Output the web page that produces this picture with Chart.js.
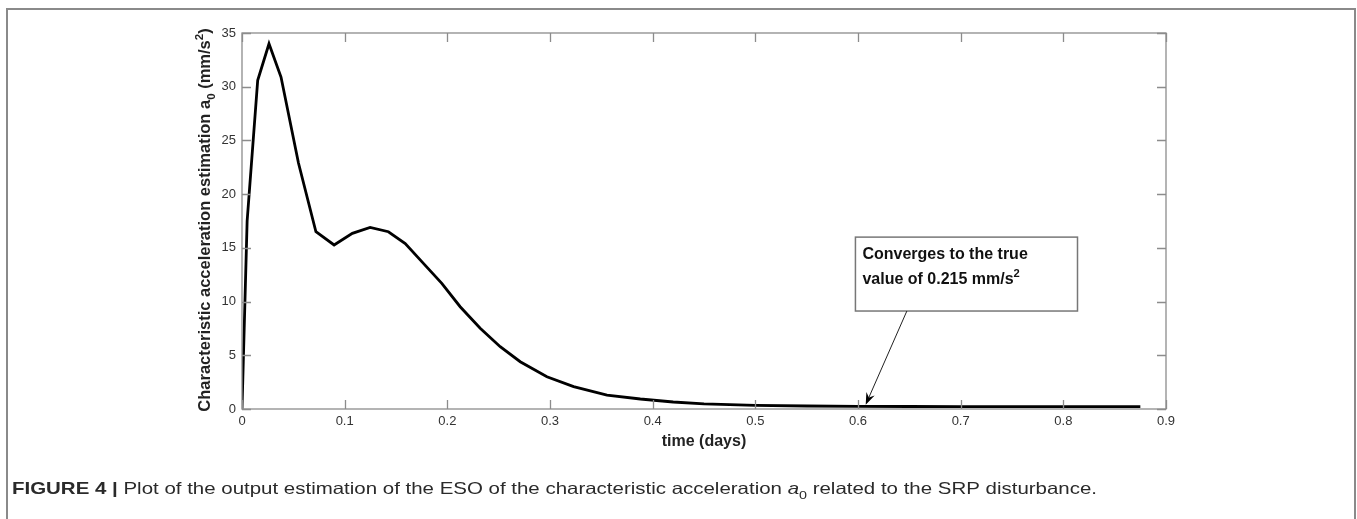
<!DOCTYPE html>
<html>
<head>
<meta charset="utf-8">
<script src="https://cdn.jsdelivr.net/npm/chart.js@4"></script>
<style>
  body { margin: 0; background: #fff; }
  canvas { display: block; }
</style>
</head>
<body>
<canvas id="myChart" width="1357" height="519"></canvas>
<script>
// data
const times = [0, 0.005, 0.0153, 0.0263, 0.038, 0.055, 0.072, 0.0897, 0.1075, 0.1248, 0.1426, 0.159,
    0.1767, 0.1946, 0.2125, 0.232, 0.2515, 0.271, 0.297, 0.323, 0.3555, 0.388, 0.42, 0.45, 0.5,
    0.55, 0.6, 0.65, 0.7, 0.8, 0.875];
const accel = [0, 17.5, 30.6, 34.0, 30.9, 22.9, 16.5, 15.27, 16.35, 16.9, 16.5, 15.4,
    13.56, 11.7, 9.52, 7.51, 5.8, 4.4, 3.0, 2.08, 1.3, 0.93, 0.65, 0.48, 0.34,
    0.28, 0.25, 0.235, 0.225, 0.218, 0.215];
const xTicks = [0, 0.1, 0.2, 0.3, 0.4, 0.5, 0.6, 0.7, 0.8, 0.9];
const yTicks = [0, 5, 10, 15, 20, 25, 30, 35];

const points = times.map((t, i) => ({ x: t, y: accel[i] }));

const FONT = '"Liberation Sans", Arial, Helvetica, sans-serif';

// draws pieces of text with sub / superscripts, starting at x along baseline y
function richWidth(ctx, parts, size) {
    let w = 0;
    parts.forEach(p => {
        ctx.font = (p.italic ? 'italic ' : '') + (p.bold ? 'bold ' : '') + (p.sub || p.sup ? size * 0.7 : size) + 'px ' + FONT;
        w += ctx.measureText(p.t).width;
    });
    return w;
}
function drawRich(ctx, parts, x, y, size) {
    parts.forEach(p => {
        const s = p.sub || p.sup ? size * 0.7 : size;
        ctx.font = (p.italic ? 'italic ' : '') + (p.bold ? 'bold ' : '') + s + 'px ' + FONT;
        let dy = 0;
        if (p.sub) dy = size * 0.3;
        if (p.sup) dy = -size * 0.45;
        ctx.fillText(p.t, x, y + dy);
        x += ctx.measureText(p.t).width;
    });
}

const decor = {
    id: 'decor',
    beforeDraw(chart) {
        const ctx = chart.ctx;
        ctx.save();
        ctx.fillStyle = '#fff';
        ctx.fillRect(0, 0, chart.width, chart.height);
        ctx.restore();
    },
    afterDraw(chart) {
        const ctx = chart.ctx;
        const a = chart.chartArea;
        const xs = chart.scales.x, ys = chart.scales.y;
        ctx.save();

        // outer figure frame
        ctx.strokeStyle = '#8a8a8a';
        ctx.lineWidth = 2;
        ctx.beginPath();
        ctx.moveTo(7, 530); ctx.lineTo(7, 9); ctx.lineTo(1355, 9); ctx.lineTo(1355, 530);
        ctx.stroke();

        // axes box + inner ticks
        ctx.strokeStyle = '#8c8c8c';
        ctx.lineWidth = 1.3;
        ctx.strokeRect(a.left, a.top, a.right - a.left, a.bottom - a.top);
        ctx.beginPath();
        xTicks.forEach(v => {
            const px = Math.round(xs.getPixelForValue(v)) + 0.5;
            ctx.moveTo(px, a.bottom); ctx.lineTo(px, a.bottom - 9);
            ctx.moveTo(px, a.top); ctx.lineTo(px, a.top + 9);
        });
        yTicks.forEach(v => {
            const py = Math.round(ys.getPixelForValue(v)) + 0.5;
            ctx.moveTo(a.left, py); ctx.lineTo(a.left + 9, py);
            ctx.moveTo(a.right, py); ctx.lineTo(a.right - 9, py);
        });
        ctx.stroke();

        // x title
        ctx.fillStyle = '#222';
        ctx.textAlign = 'center';
        ctx.textBaseline = 'alphabetic';
        ctx.font = 'bold 16px ' + FONT;
        ctx.fillText('time (days)', (a.left + a.right) / 2, 446);

        // y title, rotated
        const yParts = [
            { t: 'Characteristic acceleration estimation a', bold: true },
            { t: '0', bold: true, sub: true },
            { t: ' (mm/s', bold: true },
            { t: '2', bold: true, sup: true },
            { t: ')', bold: true }
        ];
        ctx.textAlign = 'left';
        const yw = richWidth(ctx, yParts, 16.5);
        ctx.save();
        ctx.translate(210, (a.top + a.bottom) / 2 - 1);
        ctx.rotate(-Math.PI / 2);
        drawRich(ctx, yParts, -yw / 2, 0, 16.5);
        ctx.restore();

        // annotation box
        const bx1 = xs.getPixelForValue(0.5975), bx2 = xs.getPixelForValue(0.8138);
        const by1 = ys.getPixelForValue(16.0), by2 = ys.getPixelForValue(9.12);
        ctx.fillStyle = '#fff';
        ctx.fillRect(bx1, by1, bx2 - bx1, by2 - by1);
        ctx.strokeStyle = '#777';
        ctx.lineWidth = 1.5;
        ctx.strokeRect(bx1, by1, bx2 - bx1, by2 - by1);
        ctx.fillStyle = '#111';
        ctx.font = 'bold 16px ' + FONT;
        ctx.fillText('Converges to the true', bx1 + 7, by1 + 22);
        drawRich(ctx, [{ t: 'value of 0.215 mm/s', bold: true }, { t: '2', bold: true, sup: true }], bx1 + 7, by1 + 47, 16);

        // arrow
        const ax1 = xs.getPixelForValue(0.6476), ay1 = ys.getPixelForValue(9.12);
        const ax2 = xs.getPixelForValue(0.6075), ay2 = ys.getPixelForValue(0.4);
        const ang = Math.atan2(ay2 - ay1, ax2 - ax1);
        ctx.strokeStyle = '#222';
        ctx.lineWidth = 1;
        ctx.beginPath();
        ctx.moveTo(ax1, ay1);
        ctx.lineTo(ax2 - 8 * Math.cos(ang), ay2 - 8 * Math.sin(ang));
        ctx.stroke();
        ctx.fillStyle = '#000';
        ctx.beginPath();
        ctx.moveTo(ax2, ay2);
        ctx.lineTo(ax2 - 12 * Math.cos(ang) + 4.5 * Math.sin(ang), ay2 - 12 * Math.sin(ang) - 4.5 * Math.cos(ang));
        ctx.lineTo(ax2 - 8 * Math.cos(ang), ay2 - 8 * Math.sin(ang));
        ctx.lineTo(ax2 - 12 * Math.cos(ang) - 4.5 * Math.sin(ang), ay2 - 12 * Math.sin(ang) + 4.5 * Math.cos(ang));
        ctx.closePath();
        ctx.fill();

        // caption (condensed face in the original, so squeeze it to the same width)
        const cap = [
            { t: 'FIGURE 4', bold: true },
            { t: ' | ', bold: true },
            { t: 'Plot of the output estimation of the ESO of the characteristic acceleration ' },
            { t: 'a', italic: true },
            { t: '0', sub: true },
            { t: ' related to the SRP disturbance.' }
        ];
        const cw = richWidth(ctx, cap, 16.5);
        ctx.save();
        ctx.translate(12, 494);
        ctx.scale(1085 / cw, 1);
        ctx.fillStyle = '#2a2a2a';
        drawRich(ctx, cap, 0, 0, 16.5);
        ctx.restore();

        ctx.restore();
    }
};

const data = {
    datasets: [{
        label: 'a0 estimate',
        data: points,
        showLine: true,
        borderColor: '#000',
        borderWidth: 2.8,
        pointRadius: 0,
        tension: 0,
        fill: false
    }]
};

const config = {
    type: 'scatter',
    data: data,
    options: {
        responsive: false,
        animation: false,
        layout: { padding: { left: 0, top: 33, right: 191, bottom: 0 } },
        plugins: {
            legend: { display: false },
            tooltip: { enabled: false }
        },
        scales: {
            x: {
                type: 'linear',
                min: 0,
                max: 0.9,
                afterFit: s => { s.height = 110; },
                afterBuildTicks: s => { s.ticks = xTicks.map(v => ({ value: v })); },
                grid: { display: false, drawTicks: false },
                border: { display: false },
                ticks: {
                    padding: 5,
                    color: '#333',
                    font: { family: FONT, size: 13 },
                    callback: v => v === 0 ? '0' : v.toFixed(1)
                }
            },
            y: {
                type: 'linear',
                min: 0,
                max: 35,
                afterFit: s => { s.width = 242; },
                afterBuildTicks: s => { s.ticks = yTicks.map(v => ({ value: v })); },
                grid: { display: false, drawTicks: false },
                border: { display: false },
                ticks: {
                    padding: 6,
                    color: '#333',
                    font: { family: FONT, size: 13 },
                    callback: v => String(v)
                }
            }
        }
    },
    plugins: [decor]
};

// eslint-disable-next-line
const myChart = new Chart(document.getElementById('myChart'), config);
</script>
</body>
</html>
